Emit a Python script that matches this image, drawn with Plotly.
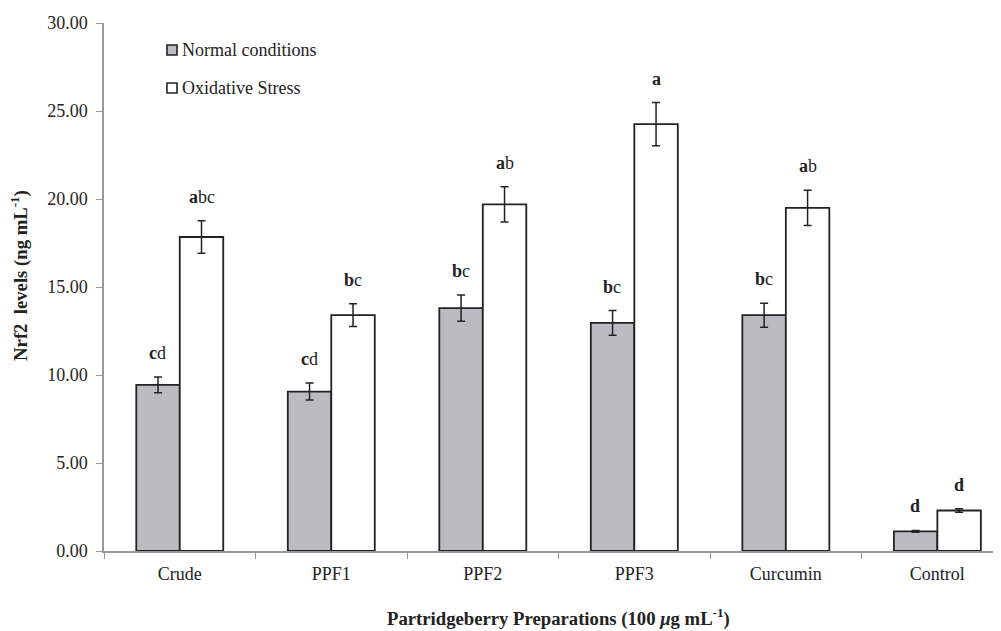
import plotly.graph_objects as go

categories = ["Crude", "PPF1", "PPF2", "PPF3", "Curcumin", "Control"]
normal_vals = [9.44, 9.06, 13.8, 12.96, 13.4, 1.12]
normal_err = [0.45, 0.48, 0.75, 0.7, 0.68, 0.05]
stress_vals = [17.84, 13.4, 19.7, 24.25, 19.5, 2.30]
stress_err = [0.92, 0.65, 1.0, 1.23, 1.0, 0.1]
normal_labels = ["<b>c</b>d", "<b>c</b>d", "<b>b</b>c", "<b>b</b>c", "<b>b</b>c", "<b>d</b>"]
stress_labels = ["<b>a</b>bc", "<b>b</b>c", "<b>a</b>b", "<b>a</b>", "<b>a</b>b", "<b>d</b>"]
series_names = ["Normal conditions", "Oxidative Stress"]
series_colors = ["#BBBCC0", "#FFFFFF"]
y_ticks = [0, 5, 10, 15, 20, 25, 30]

FONT = "Liberation Serif"
INK = "#222222"

fig = go.Figure()
fig.add_trace(go.Bar(
    x=categories, y=normal_vals, name=series_names[0], offsetgroup="n",
    marker=dict(color=series_colors[0], line=dict(color=INK, width=1.8)),
    error_y=dict(type="data", array=normal_err, color=INK, thickness=1.5, width=4),
))
fig.add_trace(go.Bar(
    x=categories, y=stress_vals, name=series_names[1], offsetgroup="s",
    marker=dict(color=series_colors[1], line=dict(color=INK, width=1.8)),
    error_y=dict(type="data", array=stress_err, color=INK, thickness=1.5, width=4),
))

annotations = []
for i, c in enumerate(categories):
    annotations.append(dict(x=i, y=normal_vals[i] + normal_err[i], xref="x", yref="y",
                            text=normal_labels[i], showarrow=False, xshift=-22,
                            yanchor="bottom", yshift=12,
                            font=dict(family=FONT, size=18, color=INK)))
    annotations.append(dict(x=i, y=stress_vals[i] + stress_err[i], xref="x", yref="y",
                            text=stress_labels[i], showarrow=False, xshift=22,
                            yanchor="bottom", yshift=12,
                            font=dict(family=FONT, size=18, color=INK)))

# legend (drawn as shapes + text, positioned in plot-area coordinates)
shapes = []
leg_y = [(0.9584, 0.9395, 0.9489), (0.8865, 0.8675, 0.877)]
for k, name in enumerate(series_names):
    y0, y1, yc = leg_y[k]
    shapes.append(dict(type="rect", xref="paper", yref="paper",
                       x0=0.0702, x1=0.0814, y0=y1, y1=y0,
                       fillcolor=series_colors[k], line=dict(color=INK, width=1.6)))
    annotations.append(dict(x=0.0847, y=yc, xref="paper", yref="paper",
                            text=name, showarrow=False, xanchor="left", yanchor="middle",
                            font=dict(family=FONT, size=18, color=INK)))

# axis titles
annotations.append(dict(x=(20 - 104) / 897, y=0.521, xref="paper", yref="paper",
                        text="<b>Nrf2  levels (ng mL<sup>-1</sup>)</b>", textangle=-90,
                        showarrow=False, xanchor="center", yanchor="middle",
                        font=dict(family=FONT, size=18.7, color=INK)))
annotations.append(dict(x=(558 - 104) / 897, y=-(618 - 551.5) / 528.5, xref="paper", yref="paper",
                        text="<b>Partridgeberry Preparations (100 <i>μ</i>g mL<sup>-1</sup>)</b>",
                        showarrow=False, xanchor="center", yanchor="middle",
                        font=dict(family=FONT, size=18.7, color=INK)))

fig.update_layout(
    width=993, height=623,
    margin=dict(l=96, r=0, t=15, b=80),
    paper_bgcolor="white", plot_bgcolor="white",
    barmode="group", bargap=0.426, bargroupgap=0,
    font=dict(family=FONT, size=18, color=INK),
    showlegend=False,
    annotations=annotations,
    shapes=shapes,
    xaxis=dict(
        range=[-0.5, 5.42], showline=True, linecolor="#999999", linewidth=1.5,
        ticks="outside", tickson="boundaries", ticklen=6, tickcolor="#999999",
        ticklabelstandoff=6, automargin=False,
        tickfont=dict(family=FONT, size=18, color=INK),
        showgrid=False, zeroline=False,
    ),
    yaxis=dict(
        range=[0, 30], tickvals=y_ticks, ticktext=[f"{v:.2f}" for v in y_ticks],
        showline=True, linecolor="#999999", linewidth=1.5,
        ticks="outside", ticklen=6, tickcolor="#999999",
        ticklabelstandoff=5, automargin=False,
        tickfont=dict(family=FONT, size=18, color=INK),
        showgrid=False, zeroline=False,
    ),
)

fig.write_html("out.html")
